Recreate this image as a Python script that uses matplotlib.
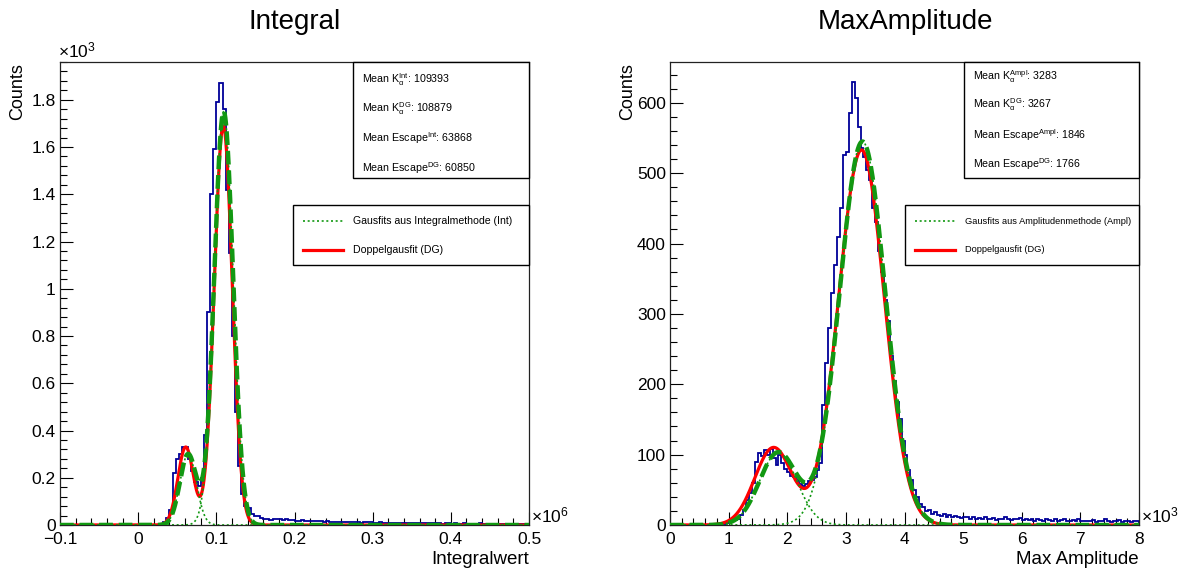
import numpy as np
import matplotlib
matplotlib.use("Agg")
import matplotlib.pyplot as plt
from matplotlib.patches import Rectangle
from matplotlib.lines import Line2D
from matplotlib.ticker import MultipleLocator, FuncFormatter

plt.rcParams['font.family'] = ['Liberation Sans', 'DejaVu Sans']
plt.rcParams['mathtext.fontset'] = 'custom'
plt.rcParams['mathtext.rm'] = 'Liberation Sans'
plt.rcParams['mathtext.it'] = 'Liberation Sans:italic'
plt.rcParams['mathtext.bf'] = 'Liberation Sans:bold'
plt.rcParams['mathtext.sf'] = 'Liberation Sans'

# ---------------- Integral histogram (150 bins, -1e5 .. 5e5) ----------------
int_range = (-1.0e5, 5.0e5)
int_counts = (
    [0] * 32
    + [5, 12, 30, 65, 220, 280, 300, 330, 330, 280, 230, 180, 165, 200, 380,
       900, 1400, 1590, 1790, 1870, 1760, 1420, 1150, 800, 480, 250, 130, 80,
       70, 45, 36, 38, 30]
    + [25, 27, 22, 25, 24, 26, 22, 24, 21, 23]
    + [19, 18, 20, 17, 18, 16, 17, 15, 16, 14, 15, 13, 14]
    + [13, 12, 14, 11, 12, 13, 11, 12, 10, 13, 11, 12]
    + [10, 9, 11, 8, 10, 9, 8, 10, 9, 8, 9, 7, 8, 9, 8, 7, 8, 9, 7, 8, 7, 8,
       6, 7, 8]
    + [6, 7, 5, 6, 7, 6, 5, 6, 5, 7, 6, 5, 6, 5, 4, 6, 5, 5, 4, 6, 5, 4, 5,
       4, 5]
)

# Gaussian fit parameters (amplitude, mean, sigma)
int_fit_escape = (300.0, 63868.0, 10500.0)
int_fit_kalpha = (1750.0, 109393.0, 12000.0)
int_dg_escape = (330.0, 60850.0, 10000.0)
int_dg_kalpha = (1690.0, 108879.0, 11500.0)

# ---------------- MaxAmplitude histogram (160 bins, 0 .. 8000) ----------------
amp_range = (0.0, 8000.0)
amp_counts = (
    [0] * 16 + [1, 1]
    + [2, 3, 4, 5, 7, 8, 14, 22, 36, 45, 60, 90, 102, 98, 106, 100, 108, 95,
       85, 100, 88, 80, 76, 70, 68, 64, 58, 56, 58, 62, 64, 68, 78, 88]
    + [170, 230, 280, 330, 370, 410, 450, 526, 530, 586, 629, 607, 566, 536,
       523, 505, 490, 450, 430, 390, 360, 320, 290, 240, 205, 175, 150, 120,
       100, 78, 64, 50, 40, 30, 26, 20, 22, 16, 18, 14]
    + [13, 15, 12, 14, 11, 13, 12, 10, 12, 11]
    + [9, 11, 8, 10, 9, 12, 8, 9, 10, 7, 9, 8, 11, 8, 7, 9, 8, 10, 7, 8]
    + [7, 8, 6, 9, 7, 6, 8, 7, 5, 8, 6, 7, 9, 6, 5, 7, 6, 8, 5, 6]
    + [6, 5, 7, 4, 6, 5, 8, 5, 4, 6, 5, 7, 4, 5, 6, 4, 5, 6]
)

amp_fit_escape = (103.0, 1846.0, 320.0)
amp_fit_kalpha = (545.0, 3283.0, 390.0)
amp_dg_escape = (110.0, 1766.0, 320.0)
amp_dg_kalpha = (533.0, 3267.0, 390.0)

int_stats = [r"Mean K$_{\mathrm{\alpha}}^{\mathrm{Int}}$: 109393",
             r"Mean K$_{\mathrm{\alpha}}^{\mathrm{DG}}$: 108879",
             r"Mean Escape$^{\mathrm{Int}}$: 63868",
             r"Mean Escape$^{\mathrm{DG}}$: 60850"]
amp_stats = [r"Mean K$_{\mathrm{\alpha}}^{\mathrm{Ampl}}$: 3283",
             r"Mean K$_{\mathrm{\alpha}}^{\mathrm{DG}}$: 3267",
             r"Mean Escape$^{\mathrm{Ampl}}$: 1846",
             r"Mean Escape$^{\mathrm{DG}}$: 1766"]
int_legend = ["Gausfits aus Integralmethode (Int)", "Doppelgausfit (DG)"]
amp_legend = ["Gausfits aus Amplitudenmethode (Ampl)", "Doppelgausfit (DG)"]

BLUE = '#000099'
GREEN = '#129812'
RED = '#ff0000'

W, H = 1189, 572


def gauss(x, a, mu, sig):
    return a * np.exp(-0.5 * ((x - mu) / sig) ** 2)


def px_rect(x0, y0, x1, y1):
    return [x0 / W, 1 - y1 / H, (x1 - x0) / W, (y1 - y0) / H]


def draw_panel(ax, counts, rng, fit_esc, fit_ka, dg_esc, dg_ka, ylim):
    edges = np.linspace(rng[0], rng[1], len(counts) + 1)
    ax.stairs(counts, edges, color=BLUE, lw=1.3, baseline=0, zorder=2)
    x = np.linspace(rng[0], rng[1], 3000)
    ax.plot(x, gauss(x, *dg_esc) + gauss(x, *dg_ka), color=RED, lw=2.3,
            zorder=3)
    ax.plot(x, gauss(x, *fit_esc) + gauss(x, *fit_ka), color=GREEN, lw=3.2,
            ls=(0, (3.1, 1.3)), dash_capstyle='butt', zorder=4)
    for p in (fit_esc, fit_ka):
        ax.plot(x, gauss(x, *p), color=GREEN, lw=1.2, ls=(0, (1.2, 1.6)),
                zorder=5)
    ax.set_xlim(*rng)
    ax.set_ylim(*ylim)
    ax.tick_params(which='both', direction='in', top=False, right=False,
                   width=0.8, labelsize=12.5, colors='black')
    ax.tick_params(which='major', length=9.5)
    ax.tick_params(which='minor', length=5)
    ax.tick_params(axis='x', pad=5)
    ax.tick_params(axis='y', pad=3)
    for s in ax.spines.values():
        s.set_linewidth(0.9)
        s.set_color('#222222')


def draw_stats(ax, lines, x0, ys, size):
    ax.add_patch(Rectangle((x0, 0.7495), 1 - x0, 0.2505,
                           transform=ax.transAxes, fc='white', ec='black',
                           lw=1.0, zorder=10, clip_on=False))
    for t, y in zip(lines, ys):
        ax.text(x0 + 0.02, 1 - (y - 62) / 463, t, transform=ax.transAxes,
                fontsize=size, va='center', ha='left', zorder=11)


def draw_legend(ax, labels, x0, xl0, xl1, xt, size):
    ax.add_patch(Rectangle((x0, 0.5616), 1 - x0, 0.1296,
                           transform=ax.transAxes, fc='white', ec='black',
                           lw=1.0, zorder=10, clip_on=False))
    ys = [1 - (221 - 62) / 463, 1 - (250 - 62) / 463]
    styles = [dict(color=GREEN, lw=1.2, ls=(0, (1.2, 1.6))),
              dict(color=RED, lw=2.3)]
    for lab, y, st in zip(labels, ys, styles):
        ax.add_line(Line2D([xl0, xl1], [y, y], transform=ax.transAxes,
                           zorder=11, **st))
        ax.text(xt, y, lab, transform=ax.transAxes, fontsize=size,
                va='center', ha='left', zorder=11)


def fmt(scale):
    def f(v, pos):
        s = '%g' % (v / scale)
        if s == '-0':
            s = '0'
        return s.replace('-', '\u2212')
    return FuncFormatter(f)


fig = plt.figure(figsize=(W / 100, H / 100), dpi=100)
ax1 = fig.add_axes(px_rect(60, 62, 529, 525))
ax2 = fig.add_axes(px_rect(670, 62, 1139, 525))

# Left panel: Integral
draw_panel(ax1, int_counts, int_range, int_fit_escape, int_fit_kalpha,
           int_dg_escape, int_dg_kalpha, (0, 1960))
ax1.xaxis.set_major_locator(MultipleLocator(1e5))
ax1.xaxis.set_minor_locator(MultipleLocator(2e4))
ax1.yaxis.set_major_locator(MultipleLocator(200))
ax1.yaxis.set_minor_locator(MultipleLocator(40))
ax1.xaxis.set_major_formatter(fmt(1e6))
ax1.yaxis.set_major_formatter(fmt(1e3))
draw_stats(ax1, int_stats, (353 - 60) / 469, [80, 109, 138, 168], 7.7)
draw_legend(ax1, int_legend, (293 - 60) / 469, (303 - 60) / 469,
            (343 - 60) / 469, (353 - 60) / 469, 7.6)
ax1.text(-0.004, 1.004, r'$\mathrm{\times10^{3}}$', transform=ax1.transAxes,
         fontsize=12.5, ha='left', va='bottom')
ax1.text(1.004, 0.0, r'$\mathrm{\times10^{6}}$', transform=ax1.transAxes,
         fontsize=12.5, ha='left', va='bottom')

# Right panel: MaxAmplitude
draw_panel(ax2, amp_counts, amp_range, amp_fit_escape, amp_fit_kalpha,
           amp_dg_escape, amp_dg_kalpha, (0, 658))
ax2.xaxis.set_major_locator(MultipleLocator(1000))
ax2.xaxis.set_minor_locator(MultipleLocator(200))
ax2.yaxis.set_major_locator(MultipleLocator(100))
ax2.yaxis.set_minor_locator(MultipleLocator(20))
ax2.xaxis.set_major_formatter(fmt(1e3))
ax2.yaxis.set_major_formatter(fmt(1))
draw_stats(ax2, amp_stats, (964 - 670) / 469, [77, 105, 135, 164], 7.7)
draw_legend(ax2, amp_legend, (905 - 670) / 469, (915 - 670) / 469,
            (955 - 670) / 469, (965 - 670) / 469, 6.7)
ax2.text(1.004, 0.0, r'$\mathrm{\times10^{3}}$', transform=ax2.transAxes,
         fontsize=12.5, ha='left', va='bottom')

# Titles and axis titles
fig.text(295 / W, 1 - 22 / H, "Integral", fontsize=20, ha='center',
         va='center')
fig.text(905 / W, 1 - 22 / H, "MaxAmplitude", fontsize=20, ha='center',
         va='center')
fig.text(18 / W, 1 - 63 / H, "Counts", fontsize=13, rotation=90,
         ha='center', va='top')
fig.text(628 / W, 1 - 63 / H, "Counts", fontsize=13, rotation=90,
         ha='center', va='top')
fig.text(529 / W, 1 - 560 / H, "Integralwert", fontsize=13.5, ha='right',
         va='center')
fig.text(1139 / W, 1 - 560 / H, "Max Amplitude", fontsize=13.5, ha='right',
         va='center')

fig.savefig('out.png', dpi=100)
